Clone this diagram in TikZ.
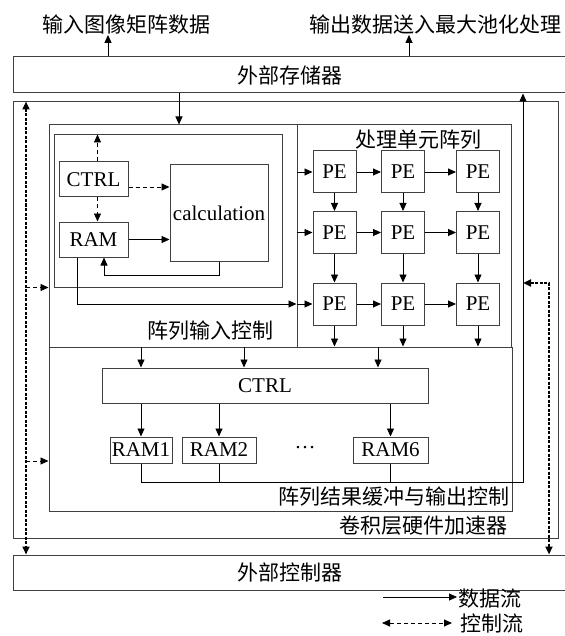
\documentclass[tikz,border=0pt]{standalone}
\usepackage{fontspec}
\setmainfont{Liberation Serif}
\newfontfamily\cjk{Noto Sans CJK SC}
\usetikzlibrary{arrows.meta, positioning}
\tikzset{
    >={Triangle[length=8pt,width=7pt]}, % filled arrow heads
    box/.style={draw=black!75, line width=1pt, inner sep=0pt}, % every framed block
    pe/.style={box, minimum width=43pt, minimum height=42pt},
    ram/.style={box, minimum height=26pt},
    flow/.style={->, line width=0.9pt}, % data flow
    ctl/.style={->, line width=0.9pt, dash pattern=on 4pt off 3pt}, % control flow
    bus/.style={<->, line width=2pt, dash pattern=on 3pt off 1.5pt}
}

\begin{document}
\begin{tikzpicture}[x=1pt, y=-1pt, every node/.style={font=\fontsize{21}{25}\selectfont, inner sep=0pt}]
    \useasboundingbox (0,0) rectangle (564,636);

    % blocks
    \node[box, minimum width=553pt, minimum height=36pt] (store) at (289.5,75) {\cjk 外部存储器};
    \node[box, minimum width=545pt, minimum height=436pt] (accel) at (285.5,320) {};
    \node[box, minimum width=248pt, minimum height=222pt] (inctrl) at (173,236) {};
    \node[box, minimum width=214pt, minimum height=222pt] (proc) at (404,236) {};
    \node[box, minimum width=463pt, minimum height=164pt] (outctrl) at (280.5,429) {};
    \node[box, minimum width=228pt, minimum height=152pt] (core) at (168,211) {};
    \node[box, minimum width=553pt, minimum height=35pt] (extctrl) at (289.5,572.5) {\cjk 外部控制器};

    \node (inlabel) at (126,25) {\cjk 输入图像矩阵数据};
    \node (outlabel) at (435,25) {\cjk 输出数据送入最大池化处理};
    \node (proclabel) at (418,140) {\cjk 处理单元阵列};
    \node (inctrllabel) at (210,331) {\cjk 阵列输入控制};
    \node[anchor=east] (outctrllabel) at (510,497) {\cjk 阵列结果缓冲与输出控制};
    \node[anchor=east] (accellabel) at (508,526) {\cjk 卷积层硬件加速器};

    % input control
    \node[box, minimum width=69pt, minimum height=35pt] (ctrl) at (93.5,179.5) {CTRL};
    \node[box, minimum width=69pt, minimum height=35pt] (ram) at (93.5,239.5) {RAM};
    \node[box, minimum width=98pt, minimum height=97pt] (calc) at (219,213) {calculation};

    % PE array
    \node[pe] (pe11) at (334.5,172) {PE};
    \node[pe] (pe12) at (403,172) {PE};
    \node[pe] (pe13) at (478,172) {PE};
    \node[pe] (pe21) at (334.5,232.5) {PE};
    \node[pe] (pe22) at (403,232.5) {PE};
    \node[pe] (pe23) at (478,232.5) {PE};
    \node[pe] (pe31) at (334.5,304) {PE};
    \node[pe] (pe32) at (403,304) {PE};
    \node[pe] (pe33) at (478,304) {PE};

    % result buffer
    \node[box, minimum width=326pt, minimum height=35pt] (ctrlb) at (265,385.5) {CTRL};
    \node[ram, minimum width=62pt] (ram1) at (141,450) {RAM1};
    \node[ram, minimum width=74pt] (ram2) at (219,450) {RAM2};
    \node[ram, minimum width=75pt] (ram6) at (390.5,450) {RAM6};
    \node (dots) at (305,448) {\ldots};

    % legend
    \coordinate (dataA) at (383,597);
    \coordinate (ctlA) at (382,623);
    \node[anchor=west] (datalabel) at (458,599) {\cjk 数据流};
    \node[anchor=west] (ctllabel) at (460,623) {\cjk 控制流};

    \coordinate (inA) at (108,0);
    \coordinate (outA) at (409,0);
    \coordinate (dataIn) at (179,0);
    \coordinate (ob2) at (244,0);
    \coordinate (ob3) at (378,0);
    \coordinate (outUp) at (523,482);
    \coordinate (ctlL) at (26,0);
    \coordinate (ctlB) at (26,461);
    \coordinate (ctlR) at (549,283);

    % data flow
    \draw[flow] (inA |- store.north) -- (inA |- inlabel.south);
    \draw[flow] (outA |- store.north) -- (outA |- outlabel.south);
    \draw[flow] (dataIn |- store.south) -- (dataIn |- inctrl.north);
    \draw[flow] (ram.east) -- (ram.east -| calc.west);
    \draw[flow] (calc.south) -- ++(0,13) -| ([xshift=10.5pt]ram.south);
    \draw[flow] ([xshift=-16.5pt]ram.south) |- (pe31.west -| proc.west);
    \draw[flow] (pe11.west -| proc.west) -- (pe11.west);
    \draw[flow] (pe21.west -| proc.west) -- (pe21.west);
    \draw[flow] (pe31.west -| proc.west) -- (pe31.west);
    \draw[flow] (pe11) -- (pe12);
    \draw[flow] (pe12) -- (pe13);
    \draw[flow] (pe21) -- (pe22);
    \draw[flow] (pe22) -- (pe23);
    \draw[flow] (pe31) -- (pe32);
    \draw[flow] (pe32) -- (pe33);
    \draw[flow] (pe11) -- (pe21);
    \draw[flow] (pe12) -- (pe22);
    \draw[flow] (pe13) -- (pe23);
    \draw[flow] (pe21) -- (pe31);
    \draw[flow] (pe22) -- (pe32);
    \draw[flow] (pe23) -- (pe33);
    \draw[flow] (pe31.south) -- (pe31.south |- outctrl.north);
    \draw[flow] (pe32.south) -- (pe32.south |- outctrl.north);
    \draw[flow] (pe33.south) -- (pe33.south |- outctrl.north);
    \draw[flow] (ram1 |- outctrl.north) -- (ram1 |- ctrlb.north);
    \draw[flow] (ob2 |- outctrl.north) -- (ob2 |- ctrlb.north);
    \draw[flow] (ob3 |- outctrl.north) -- (ob3 |- ctrlb.north);
    \draw[flow] (ram1 |- ctrlb.south) -- (ram1.north);
    \draw[flow] (ram2 |- ctrlb.south) -- (ram2.north);
    \draw[flow] (ram6 |- ctrlb.south) -- (ram6.north);
    \draw[flow] (ram1.south) |- (outUp) -- (outUp |- store.south);
    \draw[line width=0.9pt] (ram2.south) -- (ram2.south |- outUp);
    \draw[line width=0.9pt] (ram6.south) -- (ram6.south |- outUp);

    % control flow
    \draw[ctl] ([xshift=4pt]ctrl.north) -- ([xshift=4pt]ctrl.north |- core.north);
    \draw[ctl] ([xshift=4pt]ctrl.south) -- ([xshift=4pt]ram.north);
    \draw[ctl] ([yshift=-7.5pt]ctrl.east) -- ([yshift=-7.5pt]ctrl.east -| calc.west);
    \draw[bus] (ctlL |- accel.north) -- (ctlL |- extctrl.north);
    \draw[ctl] (ctlL |- core.south) -- (core.south -| inctrl.west);
    \draw[ctl] (ctlB) -- (ctlB -| outctrl.west);
    \draw[bus] (outUp |- ctlR) -- (ctlR) -- (ctlR |- extctrl.north);

    % legend arrows
    \draw[flow] (dataA) -- ([xshift=-1pt]datalabel.west |- dataA);
    \draw[ctl, <->] (ctlA) -- ([xshift=-8pt]ctllabel.west);
\end{tikzpicture}
\end{document}
